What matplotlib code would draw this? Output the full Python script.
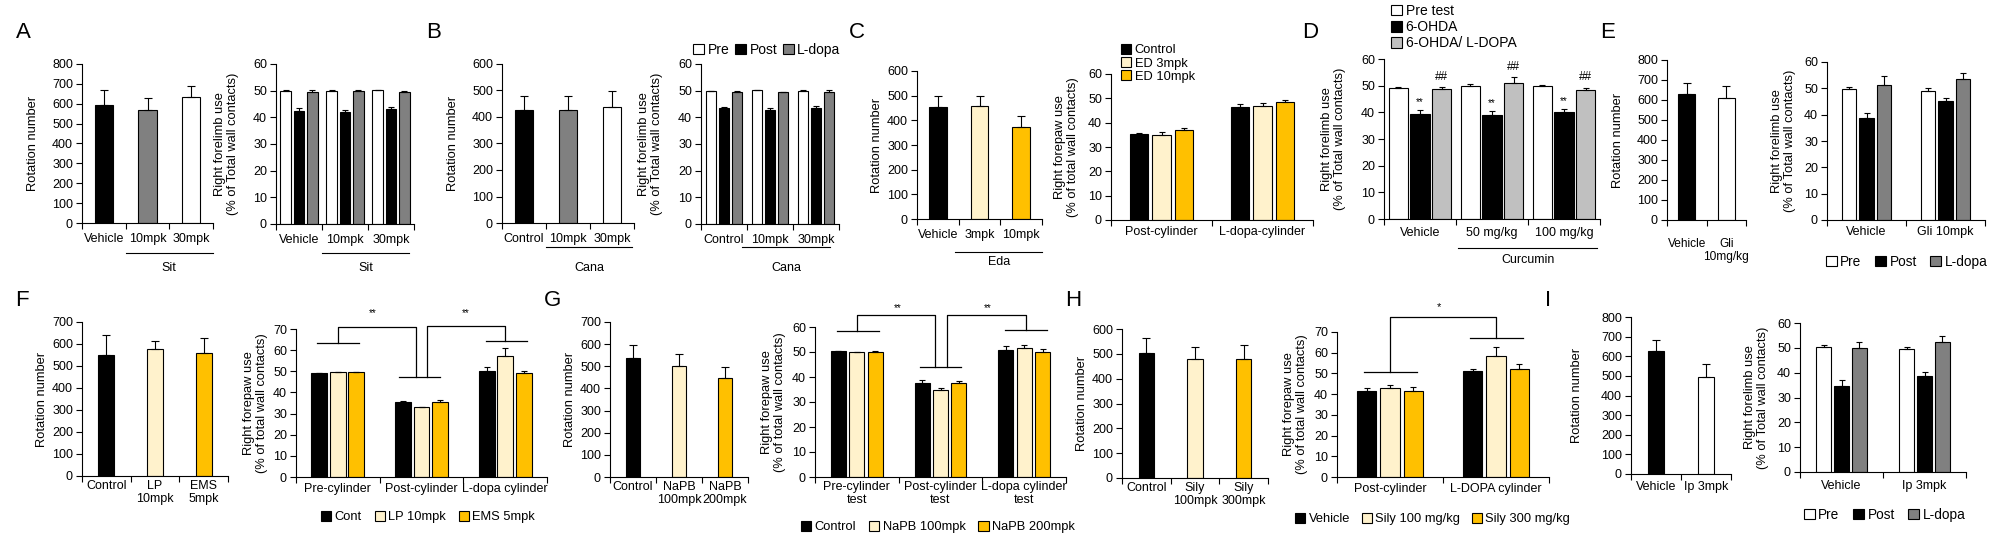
import matplotlib
matplotlib.use('Agg')
import matplotlib.pyplot as plt
from matplotlib.patches import Patch
import numpy as np

plt.rcParams['font.family'] = ['Liberation Sans', 'DejaVu Sans']
plt.rcParams['font.size'] = 9
plt.rcParams['axes.linewidth'] = 0.8

# ---- data ----
# A: Sit
a_rot_labels = ['Vehicle', '10mpk', '30mpk']
a_rot = [595, 570, 635]
a_rot_err = [75, 60, 55]
a_cyl_groups = ['Vehicle', '10mpk', '30mpk']
a_pre = [50.0, 50.0, 50.25]
a_pre_err = [0.2, 0.2, 0.0]
a_post = [42.4, 41.9, 43.1]
a_post_err = [1.0, 0.7, 0.6]
a_ldopa = [49.5, 50.0, 49.6]
a_ldopa_err = [0.6, 0.2, 0.2]

# B: Cana
b_rot_labels = ['Control', '10mpk', '30mpk']
b_rot = [425, 425, 437]
b_rot_err = [55, 55, 60]
b_cyl_groups = ['Control', '10mpk', '30mpk']
b_pre = [50.0, 50.25, 50.0]
b_pre_err = [0.0, 0.0, 0.2]
b_post = [43.6, 42.75, 43.4]
b_post_err = [0.3, 0.75, 0.8]
b_ldopa = [49.5, 49.4, 49.4]
b_ldopa_err = [0.2, 0.0, 0.8]

# C: Eda
c_rot_labels = ['Vehicle', '3mpk', '10mpk']
c_rot = [453, 458, 373]
c_rot_err = [44, 39, 45]
c_cyl_groups = ['Post-cylinder', 'L-dopa-cylinder']
c_control = [35.5, 46.3]
c_control_err = [0.3, 1.4]
c_ed3 = [34.9, 46.8]
c_ed3_err = [1.1, 1.1]
c_ed10 = [36.8, 48.3]
c_ed10_err = [0.9, 1.0]

# D: Curcumin
d_groups = ['Vehicle', '50 mg/kg', '100 mg/kg']
d_pre = [49.3, 49.9, 49.8]
d_pre_err = [0.3, 0.7, 0.3]
d_ohda = [39.3, 39.0, 40.2]
d_ohda_err = [1.6, 1.5, 1.1]
d_ldopa = [48.6, 50.9, 48.4]
d_ldopa_err = [0.8, 2.4, 0.9]

# E: Gli
e_rot_labels = ['Vehicle', 'Gli\n10mg/kg']
e_rot = [628, 608]
e_rot_err = [55, 64]
e_cyl_groups = ['Vehicle', 'Gli 10mpk']
e_pre = [49.9, 49.1]
e_pre_err = [0.7, 0.9]
e_post = [38.9, 45.0]
e_post_err = [1.9, 1.5]
e_ldopa = [51.4, 53.7]
e_ldopa_err = [3.4, 2.2]

# F: LP / EMS
f_rot_labels = ['Control', 'LP\n10mpk', 'EMS\n5mpk']
f_rot = [551, 577, 558]
f_rot_err = [90, 38, 69]
f_cyl_groups = ['Pre-cylinder', 'Post-cylinder', 'L-dopa cylinder']
f_cont = [49.4, 35.3, 50.3]
f_cont_err = [0.0, 0.7, 1.9]
f_lp = [49.7, 33.0, 57.4]
f_lp_err = [0.0, 0.3, 3.6]
f_ems = [49.7, 35.5, 49.2]
f_ems_err = [0.0, 1.1, 1.0]

# G: NaPB
g_rot_labels = ['Control', 'NaPB\n100mpk', 'NaPB\n200mpk']
g_rot = [537, 500, 446]
g_rot_err = [57, 55, 50]
g_cyl_groups = ['Pre-cylinder\ntest', 'Post-cylinder\ntest', 'L-dopa cylinder\ntest']
g_control = [50.4, 37.6, 50.9]
g_control_err = [0.0, 1.2, 1.5]
g_napb100 = [50.0, 34.9, 51.5]
g_napb100_err = [0.0, 0.8, 1.2]
g_napb200 = [50.1, 37.6, 50.1]
g_napb200_err = [0.3, 0.9, 1.1]

# H: Sily
h_rot_labels = ['Control', 'Sily\n100mpk', 'Sily\n300mpk']
h_rot = [503, 478, 480]
h_rot_err = [59, 48, 56]
h_cyl_groups = ['Post-cylinder', 'L-DOPA cylinder']
h_vehicle = [41.3, 51.4]
h_vehicle_err = [1.5, 0.5]
h_s100 = [42.8, 58.2]
h_s100_err = [1.4, 4.8]
h_s300 = [41.7, 51.9]
h_s300_err = [1.6, 2.7]

# I: Ip
i_rot_labels = ['Vehicle', 'Ip 3mpk']
i_rot = [628, 494]
i_rot_err = [55, 66]
i_cyl_groups = ['Vehicle', 'Ip 3mpk']
i_pre = [50.5, 49.5]
i_pre_err = [0.8, 0.7]
i_post = [34.8, 38.8]
i_post_err = [2.4, 1.6]
i_ldopa = [50.1, 52.2]
i_ldopa_err = [2.4, 2.7]

BLACK = 'black'
WHITE = 'white'
GRAY = '#808080'
LGRAY = '#C0C0C0'
CREAM = '#FFF2CC'
GOLD = '#FFC000'

W, H = 1992, 551
fig = plt.figure(figsize=(W / 100, H / 100), dpi=100)

ROT = 'Rotation number'
LIMB = 'Right forelimb use\n(% of Total wall contacts)'
PAW = 'Right forepaw use\n(% of total wall contacts)'


def add_ax(box):
    x0, y0, x1, y1 = box
    return fig.add_axes([x0 / W, 1 - y1 / H, (x1 - x0) / W, (y1 - y0) / H])


def yfrac(box, y):
    return (box[3] - y) / (box[3] - box[1])


def style(ax, box, labels, ymax, ystep, ylabel, label_x, pad, xfs=9):
    n = len(labels)
    ax.set_xlim(-0.5, n - 0.5)
    ax.set_ylim(0, ymax)
    ax.set_yticks(np.arange(0, ymax + 1, ystep))
    ax.set_xticks(np.arange(n + 1) - 0.5)
    ax.set_xticklabels([])
    ax.set_xticks(np.arange(n), minor=True)
    ax.set_xticklabels(labels, minor=True, linespacing=1.05, fontsize=xfs)
    ax.tick_params(axis='x', which='minor', length=0, pad=pad)
    ax.tick_params(axis='both', which='major', direction='out', length=4, width=0.8)
    ax.tick_params(axis='y', pad=2.5)
    ax.spines['top'].set_visible(False)
    ax.spines['right'].set_visible(False)
    ax.set_ylabel(ylabel, linespacing=1.1, fontsize=9.3)
    ax.yaxis.set_label_coords((label_x - box[0]) / (box[2] - box[0]), 0.5)


def single_bars(box, labels, vals, errs, colors, ymax, ystep, label_x, pad, width, xfs=9):
    ax = add_ax(box)
    x = np.arange(len(vals))
    ax.bar(x, vals, width, color=colors, edgecolor='black', linewidth=0.8, zorder=2)
    ax.errorbar(x, vals, yerr=[np.zeros(len(errs)), errs], fmt='none', ecolor='black',
                elinewidth=0.8, capsize=3, capthick=0.8, zorder=3)
    style(ax, box, labels, ymax, ystep, ROT, label_x, pad, xfs)
    return ax


def group_bars(box, groups, series, errs, colors, ymax, ystep, ylabel, label_x, pad, step, width):
    ax = add_ax(box)
    x = np.arange(len(groups))
    k = len(series)
    for i in range(k):
        xs = x + (i - (k - 1) / 2) * step
        ax.bar(xs, series[i], width, color=colors[i], edgecolor='black', linewidth=0.8, zorder=2)
        ax.errorbar(xs, series[i], yerr=[np.zeros(len(errs[i])), errs[i]], fmt='none',
                    ecolor='black', elinewidth=0.8, capsize=2.5, capthick=0.8, zorder=3)
    style(ax, box, groups, ymax, ystep, ylabel, label_x, pad)
    return ax


def under_line(ax, box, x0, x1, y_line, text, y_text):
    tr = ax.get_xaxis_transform()
    ax.plot([x0, x1], [yfrac(box, y_line)] * 2, transform=tr, clip_on=False, color='black', lw=0.8)
    ax.text((x0 + x1) / 2, yfrac(box, y_text), text, transform=tr, ha='center', va='center')


def hline(ax, x0, x1, y):
    ax.plot([x0, x1], [y, y], color='black', lw=0.9, clip_on=False)


def bracket(ax, xa, ya, xb, yb, ytop):
    ax.plot([xa, xa, xb, xb], [ya, ytop, ytop, yb], color='black', lw=0.9, clip_on=False)


def legend(handles, x, y, ncol, loc='center left', fs=9.3, colsp=1.0, labsp=0.2):
    fig.legend(handles=handles, loc=loc, bbox_to_anchor=(x / W, 1 - y / H), ncol=ncol,
               frameon=False, fontsize=fs, handlelength=0.8, handleheight=0.8,
               handletextpad=0.25, columnspacing=colsp, labelspacing=labsp,
               borderpad=0, borderaxespad=0)


def patch(c, label):
    return Patch(facecolor=c, edgecolor='black', linewidth=0.8, label=label)


def letter(s, x, y):
    fig.text(x / W, 1 - y / H, s, fontsize=16, ha='center', va='center')


# ---- A ----
letter('A', 23, 33)
box = (82, 64, 213, 223)
ax = single_bars(box, a_rot_labels, a_rot, a_rot_err, [BLACK, GRAY, WHITE], 800, 100, 39, 7, 0.42)
under_line(ax, box, 0.5, 2.5, 253, 'Sit', 268)
box = (276, 64, 414, 224)
ax = group_bars(box, a_cyl_groups, [a_pre, a_post, a_ldopa], [a_pre_err, a_post_err, a_ldopa_err],
                [WHITE, BLACK, GRAY], 60, 10, LIMB, 239, 7, 0.29, 0.23)
under_line(ax, box, 0.5, 2.4, 253, 'Sit', 268)

# ---- B ----
letter('B', 434, 33)
box = (502, 64, 634, 223)
ax = single_bars(box, b_rot_labels, b_rot, b_rot_err, [BLACK, GRAY, WHITE], 600, 100, 459, 7, 0.43)
under_line(ax, box, 0.5, 2.45, 247, 'Cana', 268)
box = (701, 64, 839, 224)
ax = group_bars(box, b_cyl_groups, [b_pre, b_post, b_ldopa], [b_pre_err, b_post_err, b_ldopa_err],
                [WHITE, BLACK, GRAY], 60, 10, LIMB, 663, 7, 0.29, 0.22)
under_line(ax, box, 0.4, 2.3, 247, 'Cana', 268)
legend([patch(WHITE, 'Pre'), patch(BLACK, 'Post'), patch(GRAY, 'L-dopa')], 693, 50, 3,
       fs=10, colsp=0.4)

# ---- C ----
letter('C', 857, 33)
box = (917, 71, 1042, 219)
ax = single_bars(box, c_rot_labels, c_rot, c_rot_err, [BLACK, CREAM, GOLD], 600, 100, 883, 7, 0.42)
under_line(ax, box, 0.42, 2.5, 252, 'Eda', 262)
box = (1111, 74, 1313, 220)
ax = group_bars(box, c_cyl_groups, [c_control, c_ed3, c_ed10], [c_control_err, c_ed3_err, c_ed10_err],
                [BLACK, CREAM, GOLD], 60, 10, PAW, 1079, 4, 0.22, 0.18)
legend([patch(BLACK, 'Control'), patch(CREAM, 'ED 3mpk'), patch(GOLD, 'ED 10mpk')], 1121, 44, 1,
       loc='upper left', labsp=0.05)

# ---- D ----
letter('D', 1310, 33)
box = (1384, 59, 1600, 219)
ax = group_bars(box, d_groups, [d_pre, d_ohda, d_ldopa], [d_pre_err, d_ohda_err, d_ldopa_err],
                [WHITE, BLACK, LGRAY], 60, 10, LIMB, 1346, 6, 0.30, 0.27)
under_line(ax, box, 0.53, 2.46, 248, 'Curcumin', 260)
for j in range(len(d_groups)):
    ax.annotate('**', (j, d_ohda[j] + d_ohda_err[j]), xytext=(0, 2), textcoords='offset points',
                ha='center', va='bottom', fontsize=7)
    ax.annotate('##', (j + 0.30, d_ldopa[j] + d_ldopa_err[j]), xytext=(0, 3), textcoords='offset points',
                ha='center', va='bottom', fontsize=8.5)
legend([patch(WHITE, 'Pre test'), patch(BLACK, '6-OHDA'), patch(LGRAY, '6-OHDA/ L-DOPA')],
       1391, 4, 1, loc='upper left', fs=10, labsp=0.15)

# ---- E ----
letter('E', 1608, 33)
box = (1667, 60, 1746, 220)
single_bars(box, e_rot_labels, e_rot, e_rot_err, [BLACK, WHITE], 800, 100, 1624, 13, 0.42, xfs=8.6)
box = (1827, 62, 1985, 220)
group_bars(box, e_cyl_groups, [e_pre, e_post, e_ldopa], [e_pre_err, e_post_err, e_ldopa_err],
           [WHITE, BLACK, GRAY], 60, 10, LIMB, 1796, 4, 0.225, 0.18)
legend([patch(WHITE, 'Pre'), patch(BLACK, 'Post'), patch(GRAY, 'L-dopa')], 1826, 262, 3, fs=9.8)

# ---- F ----
letter('F', 22, 300)
box = (82, 322, 228, 476)
single_bars(box, f_rot_labels, f_rot, f_rot_err, [BLACK, CREAM, GOLD], 700, 100, 48, 3, 0.33)
box = (296, 329, 547, 477)
ax = group_bars(box, f_cyl_groups, [f_cont, f_lp, f_ems], [f_cont_err, f_lp_err, f_ems_err],
                [BLACK, CREAM, GOLD], 70, 10, PAW, 268, 4, 0.22, 0.19)
hline(ax, -0.25, 0.25, 63.4)
hline(ax, 0.73, 1.22, 47.3)
hline(ax, 1.77, 2.26, 64.3)
bracket(ax, 0.0, 63.4, 0.93, 47.3, 71.0)
bracket(ax, 1.07, 47.3, 2.0, 64.3, 71.4)
ax.text(0.42, 77.6, '**', ha='center', va='center', fontsize=7)
ax.text(1.53, 77.6, '**', ha='center', va='center', fontsize=7)
legend([patch(BLACK, 'Cont'), patch(CREAM, 'LP 10mpk'), patch(GOLD, 'EMS 5mpk')], 321, 517, 3)

# ---- G ----
letter('G', 552, 300)
box = (610, 322, 748, 477)
single_bars(box, g_rot_labels, g_rot, g_rot_err, [BLACK, CREAM, GOLD], 700, 100, 576, 3, 0.32)
box = (815, 327, 1066, 477)
ax = group_bars(box, g_cyl_groups, [g_control, g_napb100, g_napb200],
                [g_control_err, g_napb100_err, g_napb200_err],
                [BLACK, CREAM, GOLD], 60, 10, PAW, 786, 3, 0.22, 0.18)
hline(ax, -0.24, 0.26, 58.4)
hline(ax, 0.75, 1.25, 44.0)
hline(ax, 1.77, 2.27, 58.8)
bracket(ax, 0.0, 58.4, 0.93, 44.0, 64.8)
bracket(ax, 1.08, 44.0, 2.02, 58.8, 64.8)
ax.text(0.49, 67.6, '**', ha='center', va='center', fontsize=7)
ax.text(1.57, 67.6, '**', ha='center', va='center', fontsize=7)
legend([patch(BLACK, 'Control'), patch(CREAM, 'NaPB 100mpk'), patch(GOLD, 'NaPB 200mpk')], 801, 527, 3)

# ---- H ----
letter('H', 1073, 300)
box = (1122, 329, 1268, 478)
single_bars(box, h_rot_labels, h_rot, h_rot_err, [BLACK, CREAM, GOLD], 600, 100, 1088, 3, 0.31)
box = (1337, 332, 1549, 477)
ax = group_bars(box, h_cyl_groups, [h_vehicle, h_s100, h_s300], [h_vehicle_err, h_s100_err, h_s300_err],
                [BLACK, CREAM, GOLD], 70, 10, PAW, 1308, 4, 0.22, 0.18)
hline(ax, -0.25, 0.25, 50.7)
hline(ax, 0.75, 1.25, 67.1)
bracket(ax, 0.0, 50.7, 1.0, 67.1, 77.2)
ax.text(0.46, 82.0, '*', ha='center', va='center', fontsize=8)
legend([patch(BLACK, 'Vehicle'), patch(CREAM, 'Sily 100 mg/kg'), patch(GOLD, 'Sily 300 mg/kg')], 1295, 519, 3,
       colsp=0.9)

# ---- I ----
letter('I', 1548, 300)
box = (1631, 317, 1731, 474)
single_bars(box, i_rot_labels, i_rot, i_rot_err, [BLACK, WHITE], 800, 100, 1583, 5, 0.31)
box = (1800, 323, 1966, 472)
group_bars(box, i_cyl_groups, [i_pre, i_post, i_ldopa], [i_pre_err, i_post_err, i_ldopa_err],
           [WHITE, BLACK, GRAY], 60, 10, LIMB, 1769, 6, 0.215, 0.175)
legend([patch(WHITE, 'Pre'), patch(BLACK, 'Post'), patch(GRAY, 'L-dopa')], 1804, 515, 3, fs=9.8)

fig.savefig('out.png', dpi=100)
